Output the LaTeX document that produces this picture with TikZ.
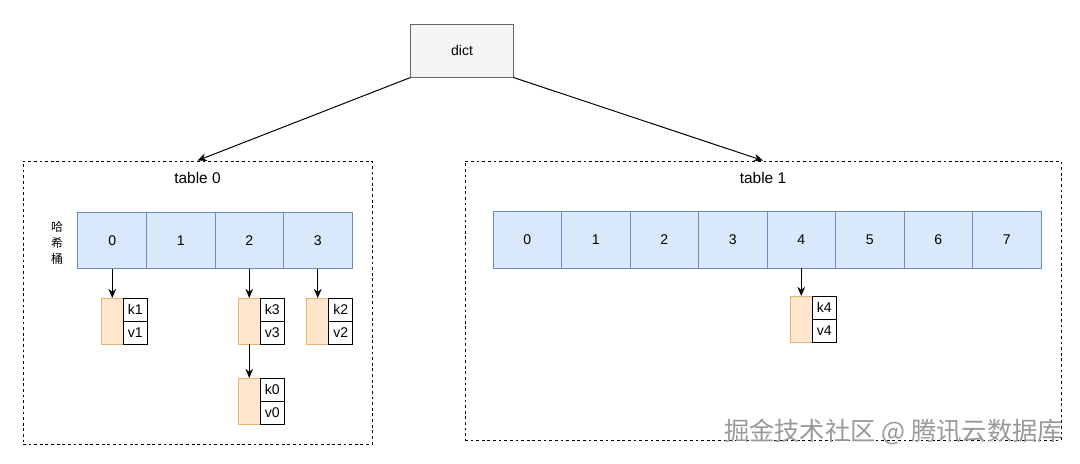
\documentclass[tikz,border=0pt]{standalone}
\usepackage{fontspec}
\setmainfont{Liberation Sans}
\newfontfamily\cjk{Noto Sans CJK SC}
\usetikzlibrary{arrows.meta, positioning}

\begin{document}
\begin{tikzpicture}[x=0.025cm, y=-0.025cm, >={Stealth[length=6.5pt, width=5.5pt]},
    font=\fontsize{10}{12}\selectfont,
    dictbox/.style={draw=dictborde, fill=dictfondo, line width=0.7pt, minimum width=2.55cm, minimum height=1.325cm, inner sep=0pt},
    tabla/.style={draw, dash pattern=on 2pt off 2pt, line width=0.6pt, inner sep=0pt},
    cubo/.style={draw=cuboborde, fill=cubofondo, line width=0.7pt, minimum width=1.7125cm, minimum height=1.41cm, inner sep=0pt, outer sep=0pt},
    entrada/.style={draw=entborde, fill=entfondo, line width=0.7pt, minimum width=0.55cm, minimum height=1.15cm, inner sep=0pt, outer sep=0pt},
    kv/.style={draw, fill=white, line width=0.7pt, minimum width=0.6cm, minimum height=0.575cm, inner sep=0pt, outer sep=0pt},
    flecha/.style={->, line width=0.7pt}
]

% Colores
\definecolor{dictborde}{RGB}{102, 102, 102}
\definecolor{dictfondo}{RGB}{245, 245, 245}
\definecolor{cuboborde}{RGB}{108, 142, 191}
\definecolor{cubofondo}{RGB}{218, 232, 252}
\definecolor{entborde}{RGB}{226, 182, 110}
\definecolor{entfondo}{RGB}{255, 230, 204}

\useasboundingbox (0,0) rectangle (1080,463);

% ============ dict ============
\node[dictbox] (dict) at (462,50.5) {dict};

% Cajas discontinuas de las dos tablas
\node[tabla, minimum width=8.725cm, minimum height=7.075cm] (tab0) at (197.5,302.5) {};
\node[tabla, minimum width=14.9cm, minimum height=6.975cm] (tab1) at (763,300.5) {};

\draw[flecha] (dict.south west) -- (tab0.north);
\draw[flecha] (dict.south east) -- (tab1.north);

% ============ TABLA 0: 4 cubos ============
\node at (197.5,178) {\fontsize{11}{13}\selectfont table 0};
\node[font=\cjk\fontsize{8.5}{11.5}\selectfont, align=center] (hash) at (57,243) {哈\\希\\桶};
\node[cubo] (t0b0) at (112.25,240.75) {0};
\node[cubo] (t0b1) at (180.75,240.75) {1};
\node[cubo] (t0b2) at (249.25,240.75) {2};
\node[cubo] (t0b3) at (317.75,240.75) {3};

% Entradas encadenadas
\node[entrada] (e1) at (112.25,321) {};
\node[kv, anchor=north west] (k1) at (e1.north east) {k1};
\node[kv, below=0pt of k1] (v1) {v1};

\node[entrada] (e3) at (249.25,321) {};
\node[kv, anchor=north west] (k3) at (e3.north east) {k3};
\node[kv, below=0pt of k3] (v3) {v3};

\node[entrada] (e0) at (249.25,401) {};
\node[kv, anchor=north west] (k0) at (e0.north east) {k0};
\node[kv, below=0pt of k0] (v0) {v0};

\node[entrada] (e2) at (317.75,321) {};
\node[kv, anchor=north west] (k2) at (e2.north east) {k2};
\node[kv, below=0pt of k2] (v2) {v2};

\draw[flecha] (t0b0) -- (e1);
\draw[flecha] (t0b2) -- (e3);
\draw[flecha] (e3) -- (e0);
\draw[flecha] (t0b3) -- (e2);

% ============ TABLA 1: 8 cubos ============
\node at (763,178) {\fontsize{11}{13}\selectfont table 1};
\node[cubo] (t1b0) at (527.25,240) {0};
\node[cubo] (t1b1) at (595.75,240) {1};
\node[cubo] (t1b2) at (664.25,240) {2};
\node[cubo] (t1b3) at (732.75,240) {3};
\node[cubo] (t1b4) at (801.25,240) {4};
\node[cubo] (t1b5) at (869.75,240) {5};
\node[cubo] (t1b6) at (938.25,240) {6};
\node[cubo] (t1b7) at (1006.75,240) {7};

\node[entrada] (e4) at (801.25,319) {};
\node[kv, anchor=north west] (k4) at (e4.north east) {k4};
\node[kv, below=0pt of k4] (v4) {v4};

\draw[flecha] (t1b4) -- (e4);

% Marca de agua
\node[font=\cjk\fontsize{18}{20}\selectfont, text=black!40, anchor=east] (marca) at (1068,432) {掘金技术社区 @ 腾讯云数据库};

\end{tikzpicture}
\end{document}
